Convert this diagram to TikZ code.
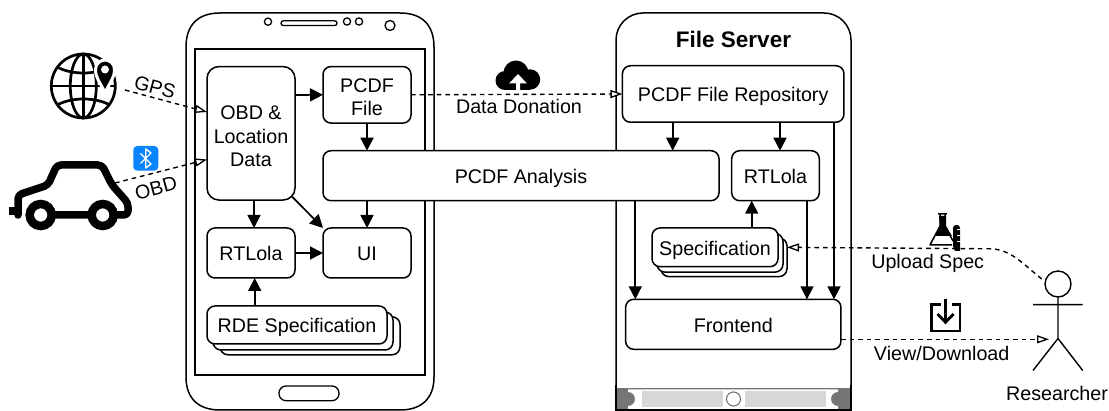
\documentclass[tikz,border=0pt]{standalone}
\usepackage{fontspec}
\setmainfont{Liberation Sans}
\usetikzlibrary{arrows.meta,calc}
\definecolor{btblue}{HTML}{0A84FF}
\definecolor{bandgray}{HTML}{757575}
\definecolor{barlight}{HTML}{D5D8D6}
\tikzset{
  lbl/.style={font=\fontsize{19.7pt}{23pt}\selectfont,inner sep=0pt,text=black,text height=14pt,text depth=0pt},
  box/.style={draw=black,line width=1.5pt,fill=white,rounded corners=8pt,inner sep=0pt,outer sep=0pt,
     font=\fontsize{19.7pt}{23pt}\selectfont,text=black,text height=16pt,text depth=0pt},
  multibox/.style={draw=black,line width=1.5pt,fill=white,rounded corners=8pt,inner sep=0pt,outer sep=0pt,
     font=\fontsize{19.7pt}{23pt}\selectfont,text=black,align=center},
  flow/.style={line width=1.7pt,-{Triangle[length=13pt,width=13pt]}},
  dashflow/.style={line width=1.4pt,dash pattern=on 4.6pt off 4pt,-{Triangle[open,fill=white,length=12pt,width=8pt,line width=1.3pt]}},
  frame/.style={draw=black,line width=1.5pt},
}
\begin{document}
\begin{tikzpicture}[x=1pt,y=-1pt]
\useasboundingbox (0,0) rectangle (1109,411);
% phone
\draw[frame,fill=white] (186,47) .. controls (186,25) and (198,13) .. (220,13) -- (400,13)
  .. controls (422,13) and (434,25) .. (434,47) -- (434,377)
  .. controls (434,398) and (422,410) .. (400,410) -- (220,410)
  .. controls (198,410) and (186,398) .. (186,377) -- cycle;
\draw[frame] (195,49) rectangle (425,375);
\draw[line width=1.3pt,rounded corners=2.4pt] (281,20.8) rectangle (337,25.6);
\draw[line width=1.3pt] (268,21.7) circle (3.6) (347,21.5) circle (3.6) (359,21.5) circle (3.6) (390,25.5) circle (5);
\draw[line width=1.3pt,rounded corners=7pt] (279,386) rectangle (339,400.7);
% server
\draw[frame,fill=white,rounded corners=27pt] (616,411) -- (616,13) -- (851,13) -- (851,411);
\fill[bandgray] (616.7,388) rectangle (850.3,409.5);
\fill[white] (628,389.5) -- (838,389.5) -- (838,392) .. controls (828.7,392) and (828.7,406) .. (838,406) -- (838,408.8) -- (628,408.8) -- (628,406)
   .. controls (637.3,406) and (637.3,392) .. (628,392) -- cycle;
\fill[barlight] (642,391) rectangle (723,407);
\fill[barlight] (745,391) rectangle (826,407);
\draw[bandgray,line width=1.1pt,fill=white] (733.5,399) circle (7);
\draw[frame] (616,385) -- (616,410) -- (851,410) -- (851,385);
\node[font=\bfseries\fontsize{22.5pt}{26pt}\selectfont,inner sep=0pt,text=black] (title) at (733.5,39.5) {File Server};
% phone nodes
\node[multibox,rounded corners=12pt,minimum width=88pt,minimum height=133.5pt] (obd) at (251,133.3) {\rule{0pt}{20pt}OBD \&\\[0.5pt]Location\\[0.5pt]Data};
\node[multibox,minimum width=88pt,minimum height=56.5pt] (file) at (367,94.8) {\rule{0pt}{19pt}PCDF\\[0.5pt]File};
\node[box,minimum width=396pt,minimum height=50pt] (analysis) at (521,175.7) {PCDF Analysis};
\node[box,minimum width=88pt,minimum height=50pt] (ui) at (367,253) {UI};
\node[box,minimum width=88pt,minimum height=50pt] (rtl) at (251,253) {RTLola};
\node[box,minimum width=180pt,minimum height=38pt] (rde3) at (310,335.8) {};
\node[box,minimum width=180pt,minimum height=38pt] (rde2) at (303,331) {};
\node[box,minimum width=180pt,minimum height=38pt] (rde) at (297,325) {RDE Specification};
% server nodes
\node[box,minimum width=221.5pt,minimum height=56.5pt] (repo) at (733.2,94) {PCDF File Repository};
\node[box,minimum width=87.6pt,minimum height=50pt] (rts) at (775.5,175.7) {RTLola};
\node[box,minimum width=126pt,minimum height=38.7pt] (spec3) at (724,257.3) {};
\node[box,minimum width=126pt,minimum height=38.7pt] (spec2) at (720,252.8) {};
\node[box,minimum width=126pt,minimum height=38.7pt] (spec) at (715,247.35) {Specification};
\node[box,minimum width=215.3pt,minimum height=50pt] (front) at (733.3,324.3) {Frontend};
% flows phone
\draw[flow] ([yshift=-0.2pt]obd.east |- file.west) -- (file.west);
\draw[flow] (file.south) -- (file.south |- analysis.north);
\draw[flow] (file.south |- analysis.south) -- (ui.north);
\draw[flow] (obd.south) ++(3,0) coordinate (o1) -- (o1 |- rtl.north);
\draw[flow] (obd.south east) ++(-3,-3.5) -- (ui.north west);
\draw[flow] (rtl.east) -- (ui.west);
\draw[flow] ([xshift=3.7pt]rde.north -| rtl.south) -- ([xshift=3.7pt]rtl.south);
% flows server
\draw[flow] ([xshift=-60.5pt]repo.south) -- ([xshift=-60.5pt]repo.south |- analysis.north);
\draw[flow] ([xshift=46.8pt]repo.south) -- ([xshift=46.8pt]repo.south |- rts.north);
\draw[flow] ([xshift=100.8pt]repo.south) -- ([xshift=100.8pt]repo.south |- front.north);
\draw[flow] ([xshift=114.3pt]analysis.south) -- ([xshift=114.3pt]analysis.south |- front.north);
\draw[flow] ([xshift=31.5pt]rts.south) -- ([xshift=31.5pt]rts.south |- front.north);
\draw[flow] ([xshift=-23.8pt]rts.south |- spec.north) -- ([xshift=-23.8pt]rts.south);
% actor
\node[draw=black,line width=1.4pt,circle,minimum size=26pt,inner sep=0pt,outer sep=0pt,fill=white] (head) at (1058,284) {};
\coordinate (hip) at (1058,338.5);
\coordinate (tip) at (1049,339.3);
\draw[line width=1.4pt] (head.south) -- (hip) (1033,304.7) -- (1082.7,304.7) (1033,370.5) -- (hip) -- (1082.7,370.5);
\node[lbl] (res) at (1057,393.3) {Researcher};
% dashed
\coordinate (gps) at (125,90);
\coordinate (car) at (115,183);
\coordinate (headl) at (1041.7,279);
\draw[dashflow] (gps) -- ([yshift=21.3pt]obd.west);
\draw[dashflow] (car) -- ([yshift=-26.2pt]obd.west);
\draw[dashflow] (file.east) -- (repo.west);
\draw[dashflow] (headl) .. controls (1022,263) and (1010,249) .. (990,248.8) -- (spec3.east |- spec.east);
\draw[dashflow] ([yshift=-15pt]front.east) -- (tip);
% labels
\node[lbl,rotate=-15] (lgps) at (155,87) {GPS};
\node[lbl,rotate=15] (lobd) at (156,188) {OBD};
\node[lbl] (ldon) at (519,106.7) {Data Donation};
\node[lbl] (lup) at (927.7,261.7) {Upload Spec};
\node[lbl] (lview) at (941.7,353.3) {View/Download};
% globe
\begin{scope}[line width=2.7pt]
\draw (83.3,86) circle (32);
\draw (83.3,86) ellipse (13 and 32);
\draw (83.3,54) -- (83.3,118) (51.3,86) -- (115.3,86);
\draw (57,67) .. controls (72,75) and (95,75) .. (110,67);
\draw (57,105) .. controls (72,97) and (95,97) .. (110,105);
\end{scope}
\draw[white,line width=3pt,fill=black,line join=round] (105,92.7) .. controls (100,82) and (95.5,78) .. (95.5,69.5)
  .. controls (95.5,64) and (100,60) .. (105,60) .. controls (110,60) and (114.5,64) .. (114.5,69.5)
  .. controls (114.5,78) and (110,82) .. (105,92.7) -- cycle;
\fill[white] (105,69.5) circle (4);
% car
\draw[line width=7.5pt,line join=round,line cap=round,rounded corners=4pt]
  (18,215) -- (18,195) -- (48,185) -- (57,165) -- (102,165) -- (112,185) -- (128,203) -- (128,215) -- (100,215) -- (40,215);
\draw[line width=8pt,line cap=butt] (9,211) -- (18,211);
\draw[line width=8.5pt,fill=white] (40.7,215) circle (11);
\draw[line width=8.5pt,fill=white] (102.7,215) circle (11);
% bluetooth
\fill[btblue,rounded corners=4pt] (133.3,146) rectangle (158.3,170.7);
\draw[white,line width=1.4pt,line join=round] (140.5,153.5) -- (151,164) -- (145.7,168) -- (145.7,149) -- (151,153) -- (140.5,163.5);
% cloud
\fill[black] (505,80.5) circle (9.5);
\fill[black] (516,73) circle (12.5);
\fill[black] (530,79.5) circle (10.2);
\fill[black] (505,78) rectangle (530,90);
\fill[white] (518,74) -- (527,83.5) -- (520,83.5) -- (520,90) -- (516,90) -- (516,83.5) -- (509,83.5) -- cycle;
% flask
\draw[line width=1.5pt,line join=round] (938,214) -- (947,214) (940,214) -- (940,226) -- (930,245) -- (952,245) (945,214) -- (945,226) -- (953,241);
\fill[black] (939,216) -- (946,216) -- (946,226) -- (952,236) -- (935,236) -- (940,226) -- cycle;
\fill[black,rounded corners=3pt] (953,225) -- (960,225) -- (960,248) .. controls (960,251) and (955,251) .. (953,248) -- cycle;
\draw[white,line width=1pt] (957,230) -- (960.5,230) (957,236) -- (960.5,236) (957,242) -- (960.5,242);
% download
\draw[line width=2.8pt,line cap=butt] (940.5,304.5) -- (931.3,304.5) -- (931.3,331) -- (960,331) -- (960,304.5) -- (951.5,304.5);
\draw[line width=2.8pt] (945.5,299) -- (945.5,322) (937.5,314) -- (945.5,322.3) -- (953.5,314);
\end{tikzpicture}
\end{document}
